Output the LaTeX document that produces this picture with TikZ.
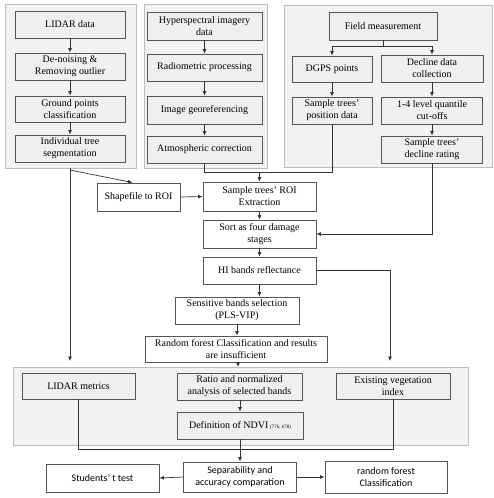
\documentclass[tikz,border=0pt]{standalone}
\usepackage{fontspec}
\setmainfont{Liberation Serif}
\newfontfamily\calibri{Carlito}
\usetikzlibrary{arrows.meta,calc}
\definecolor{panelfill}{HTML}{F2F2F2}
\definecolor{panelline}{HTML}{BDBDBD}
\definecolor{boxline}{HTML}{555555}
\definecolor{inboxfill}{HTML}{EFEFEF}
\definecolor{conn}{HTML}{333333}
\begin{document}
\begin{tikzpicture}[x=1pt,y=-1pt,
  panel/.style={draw=panelline,fill=panelfill,line width=0.8pt},
  box/.style={draw=boxline,line width=0.9pt,fill=white,align=center,inner sep=1pt,
    font=\fontsize{10}{12}\selectfont},
  inbox/.style={box,fill=inboxfill},
  sbox/.style={box,font=\calibri\fontsize{10}{12}\selectfont},
  arr/.style={draw=conn,line width=0.7pt,-{Latex[length=4.5pt,width=4pt]}},
  ln/.style={draw=conn,line width=0.7pt}]
\useasboundingbox (0,0) rectangle (494,498);
% panels
\draw[panel] (5,4) rectangle (136,168);
\draw[panel] (144,4) rectangle (267,168);
\draw[panel] (284,5) rectangle (492,167);
\draw[panel] (13,367) rectangle (468,445);
% left panel
\node[inbox,minimum width=110,minimum height=27] (lidar) at (70,24.5) {LIDAR data};
\node[inbox,minimum width=110,minimum height=27] (denoise) at (70,66.5) {De-noising \&\\Removing outlier};
\node[inbox,minimum width=110,minimum height=26] (ground) at (70,109) {Ground points\\classification};
\node[inbox,minimum width=110,minimum height=27] (indiv) at (70,148.5) {Individual tree\\segmentation};
\draw[arr] (lidar) -- (denoise);
\draw[arr] (denoise) -- (ground);
\draw[arr] (ground) -- (indiv);
% middle panel
\node[inbox,minimum width=115,minimum height=28] (hyper) at (204.5,26) {Hyperspectral imagery\\data};
\node[inbox,minimum width=115,minimum height=27] (radio) at (204.5,67.5) {Radiometric processing};
\node[inbox,minimum width=115,minimum height=28] (georef) at (204.5,110) {Image georeferencing};
\node[inbox,minimum width=115,minimum height=27] (atmos) at (204.5,149.5) {Atmospheric correction};
\draw[arr] (hyper) -- (radio);
\draw[arr] (radio) -- (georef);
\draw[arr] (georef) -- (atmos);
% right panel
\node[inbox,minimum width=108,minimum height=28] (field) at (383,26) {Field measurement};
\node[inbox,minimum width=80,minimum height=26] (dgps) at (332,69) {DGPS points};
\node[inbox,minimum width=102,minimum height=27] (decline) at (432,68.5) {Decline data\\collection};
\node[inbox,minimum width=80,minimum height=27] (position) at (332,110.5) {Sample trees’\\position data};
\node[inbox,minimum width=101,minimum height=27] (quant) at (432,110.5) {1-4 level quantile\\cut-offs};
\node[inbox,minimum width=101,minimum height=27] (rating) at (432,149.5) {Sample trees’\\decline rating};
\coordinate (split) at (383,46);
\draw[ln] (field.south) -- (split);
\draw[arr] (split) -| (dgps.north);
\draw[arr] (split) -| (decline.north);
\draw[arr] (dgps) -- (position);
\draw[arr] (decline) -- (quant);
\draw[arr] (quant) -- (rating);
% middle flow
\node[box,minimum width=83,minimum height=28] (shape) at (138.5,197) {Shapefile to ROI};
\node[box,minimum width=113,minimum height=29] (roi) at (259.5,196.5) {Sample trees’ ROI\\Extraction};
\node[box,minimum width=113,minimum height=28] (sort) at (259.5,234) {Sort as four damage\\stages};
\node[box,minimum width=113,minimum height=27] (hi) at (259.5,270.5) {HI bands reflectance};
\node[box,minimum width=124,minimum height=27] (sens) at (237,310.5) {Sensitive bands selection\\(PLS-VIP)};
\node[box,minimum width=182,minimum height=26] (rf) at (236,349) {Random forest Classification and results\\are insufficient};
% bottom panel
\node[inbox,minimum width=113,minimum height=26] (lmet) at (78.5,386) {LIDAR metrics};
\node[inbox,minimum width=125,minimum height=27] (ratio) at (239.5,386.5) {Ratio and normalized\\analysis of selected bands};
\node[inbox,minimum width=114,minimum height=26] (exist) at (393,386) {Existing vegetation\\index};
\node[inbox,minimum width=126,minimum height=27] (ndvi) at (240,425.5) {Definition of NDVI\,{\fontsize{5}{6}\selectfont(776, 678)}};
% bottom row
\node[sbox,minimum width=113,minimum height=30] (sep) at (240,477) {Separability and\\accuracy comparation};
\node[sbox,minimum width=113,minimum height=28] (stud) at (102.5,478) {Students’ t test};
\node[sbox,minimum width=122,minimum height=32] (rfc) at (386,477) {random forest\\Classification};
% coordinates
\coordinate (lidarout) at (70,168);
\coordinate (lidarbend) at (70,170);
\coordinate (lidarend) at (70,361);
\coordinate (join) at (259.5,172);
\coordinate (hiend) at (390,361);
\coordinate (paneltop) at (238,367);
\coordinate (bottomjoin) at (240,449);
% connectors
\draw[arr] (lidarout) -- (lidarend);
\draw[arr] (lidarbend) -- ([xshift=-6pt]shape.north);
\draw[ln] (atmos.south) |- (join);
\draw[ln] (position.south) |- (join);
\draw[arr] (join) -- (roi.north);
\draw[arr] (shape.east) -- (roi.west);
\draw[arr] (roi) -- (sort);
\draw[arr] (sort) -- (hi);
\draw[arr] (rating.south) |- (sort.east);
\draw[arr] (hi.east) -| (hiend);
\draw[arr] (hi.south) -- (hi.south |- sens.north);
\draw[arr] (sens.south) -- (sens.south |- rf.north);
\draw[arr] (paneltop |- rf.south) -- (paneltop);
\draw[arr] (ratio.south -| ndvi.south) -- (ndvi.north);
\draw[ln] (lmet.south) |- (exist.south |- bottomjoin) -- (exist.south);
\draw[arr] (ndvi.south) -- (sep.north);
\draw[arr] (sep.west) -- (stud.east);
\draw[arr] (sep.east) -- (rfc.west);
\end{tikzpicture}
\end{document}
